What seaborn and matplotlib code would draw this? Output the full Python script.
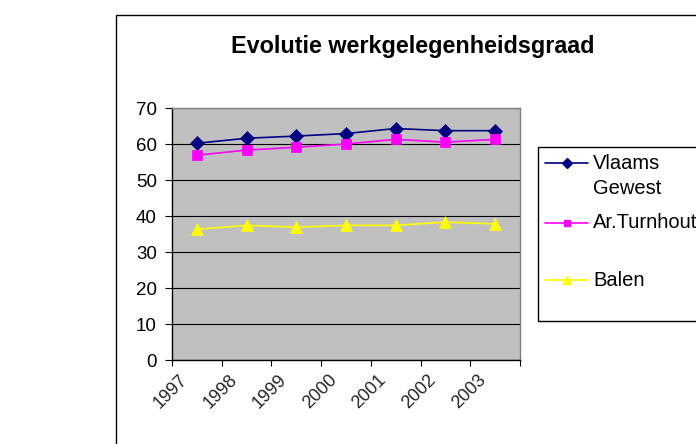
import matplotlib
matplotlib.use("Agg")
import matplotlib.pyplot as plt
import matplotlib.transforms as mtransforms
from matplotlib.lines import Line2D
from matplotlib.patches import Rectangle
import numpy as np
import pandas as pd
import seaborn as sns

# ---- data ----
years = ["1997", "1998", "1999", "2000", "2001", "2002", "2003"]
vlaams_gewest = [60.2, 61.6, 62.2, 62.9, 64.3, 63.7, 63.7]
ar_turnhout = [56.9, 58.3, 59.1, 60.0, 61.3, 60.5, 61.3]
balen = [36.3, 37.4, 36.9, 37.4, 37.4, 38.3, 37.8]
series_names = ["Vlaams Gewest", "Ar.Turnhout", "Balen"]
legend_labels = ["Vlaams\nGewest", "Ar.Turnhout", "Balen"]
y_ticks = [0, 10, 20, 30, 40, 50, 60, 70]
title = "Evolutie werkgelegenheidsgraad"

colors = ["#000080", "#FF00FF", "#FFFF00"]
markers = ["D", "s", "^"]
msizes = [7.2, 6.6, 8.0]
leg_msizes = [5.0, 5.0, 6.0]

sns.set_theme(style="white")
plt.rcParams["font.family"] = ["Liberation Sans", "DejaVu Sans"]

W, H = 696, 444
fig = plt.figure(figsize=(W / 100, H / 100), dpi=100)
fig.patch.set_facecolor("white")


def fx(px):
    return px / W


def fy(py):
    return 1 - py / H


# chart-area border (extends past right/bottom edges)
fig.patches.append(Rectangle((fx(115.5), fy(470)), 1.0, (470 - 14.5) / H,
                             transform=fig.transFigure, fill=False,
                             edgecolor="black", linewidth=1.0))

# plot area
ax = fig.add_axes([fx(172), fy(360), (520 - 172) / W, (360 - 108) / H])
ax.set_facecolor("#C0C0C0")

df = pd.DataFrame({
    "pos": list(range(len(years))) * 3,
    "value": vlaams_gewest + ar_turnhout + balen,
    "series": sum([[n] * len(years) for n in series_names], []),
})

for name, c, m, ms in zip(series_names, colors, markers, msizes):
    sub = df[df["series"] == name]
    sns.lineplot(data=sub, x="pos", y="value", ax=ax, color=c, marker=m,
                 markersize=ms, markeredgecolor=c, markerfacecolor=c,
                 markeredgewidth=0.5, linewidth=1.2, legend=False, zorder=3)

ax.set_xlim(-0.5, len(years) - 0.5)
ax.set_ylim(0, 70)
ax.set_xlabel("")
ax.set_ylabel("")

# y axis
ax.set_yticks(y_ticks)
ax.set_yticklabels([str(v) for v in y_ticks], fontsize=13.5, color="black")
ax.tick_params(axis="y", which="major", left=True, length=5, width=0.8,
               direction="out", color="black", pad=6)
ax.yaxis.grid(True, color="black", linewidth=0.8)
ax.xaxis.grid(False)
ax.set_axisbelow(True)

# x axis: tick marks between categories, labels at centres
ax.set_xticks(np.arange(-0.5, len(years), 1.0))
ax.set_xticklabels([""] * (len(years) + 1))
ax.set_xticks(np.arange(len(years)), minor=True)
ax.set_xticklabels(years, minor=True, fontsize=13, rotation=45,
                   ha="right", va="center", rotation_mode="anchor")
ax.tick_params(axis="x", which="major", bottom=True, length=4.5, width=0.8,
               direction="out", color="black")
ax.tick_params(axis="x", which="minor", bottom=True, length=0, pad=12.5)
offset = mtransforms.ScaledTranslation(-12 / 100, 0, fig.dpi_scale_trans)
for lab in ax.get_xticklabels(minor=True):
    lab.set_transform(lab.get_transform() + offset)

for side in ["left", "bottom"]:
    ax.spines[side].set_color("black")
    ax.spines[side].set_linewidth(1.0)
for side in ["top", "right"]:
    ax.spines[side].set_color("#808080")
    ax.spines[side].set_linewidth(1.0)

# title
fig.text(fx(412.5), fy(46), title, ha="center", va="center",
         fontsize=16.8, fontweight="bold", color="black")

# legend (Excel-style box)
fig.patches.append(Rectangle((fx(537.7), fy(320.7)), 1.0, (320.7 - 146.7) / H,
                             transform=fig.transFigure, fill=False,
                             edgecolor="black", linewidth=1.0))
entry_y = [163, 222.7, 280]
for lab, c, m, ms, y in zip(legend_labels, colors, markers, leg_msizes, entry_y):
    fig.add_artist(Line2D([fx(545), fx(588)], [fy(y), fy(y)],
                          transform=fig.transFigure, color=c, linewidth=1.2))
    fig.add_artist(Line2D([fx(566.5)], [fy(y)], transform=fig.transFigure,
                          color=c, marker=m, markersize=ms,
                          markeredgecolor=c, markerfacecolor=c))
    for i, line in enumerate(lab.split("\n")):
        fig.text(fx(593), fy(y + 25 * i), line, ha="left", va="center",
                 fontsize=14.5, color="black")

fig.savefig("out.png", dpi=100)
